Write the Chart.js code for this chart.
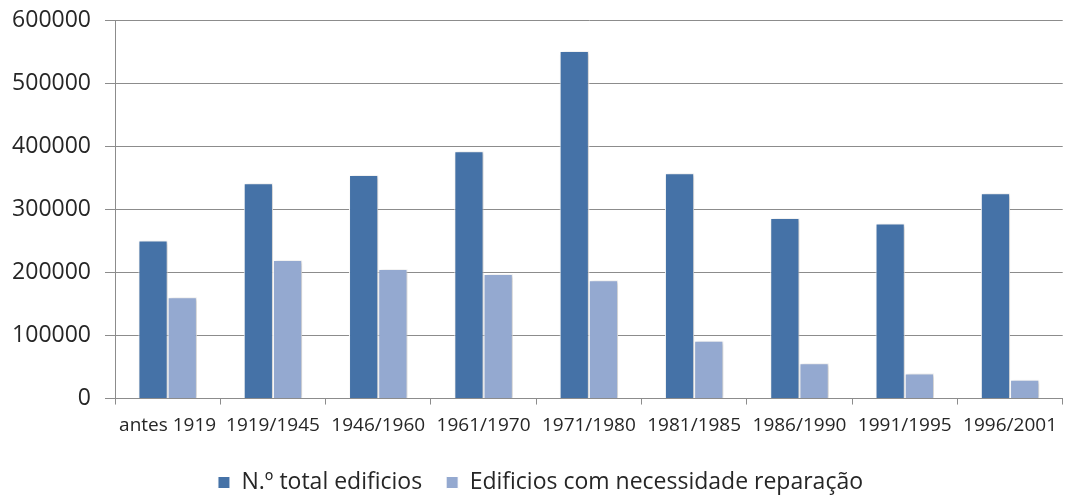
<!DOCTYPE html>
<html>
<head>
<meta charset="utf-8">
<script src="https://cdn.jsdelivr.net/npm/chart.js@4/dist/chart.umd.min.js"></script>
<style>
  html, body { margin: 0; padding: 0; background: #ffffff; }
  #wrap { width: 1071px; height: 495px; position: relative; }
</style>
</head>
<body>
<div id="wrap"><canvas id="barChart"></canvas></div>
<script>
const categories = [
  "antes 1919", "1919/1945", "1946/1960", "1961/1970", "1971/1980",
  "1981/1985", "1986/1990", "1991/1995", "1996/2001",
];
const totalEdificios = [251000, 342000, 355000, 393000, 552000, 358000, 287000, 278000, 326000];
const necessidadeReparacao = [161000, 220000, 206000, 198000, 188000, 92000, 56000, 40000, 30000];
const yTicks = [0, 100000, 200000, 300000, 400000, 500000, 600000];

const seriesNames = ["N.º total edificios", "Edificios com necessidade reparação"];

// soft drop shadow behind the bars, like the spreadsheet original
const barShadow = {
  id: "barShadow",
  beforeDatasetsDraw(chart) {
    const ctx = chart.ctx;
    ctx.save();
    ctx.shadowColor = "rgba(0,0,0,0.22)";
    ctx.shadowBlur = 4;
    ctx.shadowOffsetX = 2;
    ctx.shadowOffsetY = 1;
  },
  afterDatasetsDraw(chart) {
    chart.ctx.restore();
  },
};

function initChart() {
  Chart.defaults.font.family = "'Open Sans', sans-serif";
  Chart.defaults.color = "#333333";

  const canvas = document.getElementById("barChart");
  new Chart(canvas.getContext("2d"), {
    type: "bar",
    data: {
      labels: categories,
      datasets: [
        {
          label: seriesNames[0],
          data: totalEdificios,
          backgroundColor: "#4572a7",
          borderColor: "#ffffff",
          borderWidth: 1,
          categoryPercentage: 0.555,
          barPercentage: 1,
        },
        {
          label: seriesNames[1],
          data: necessidadeReparacao,
          backgroundColor: "#94a9d0",
          borderColor: "#ffffff",
          borderWidth: 1,
          categoryPercentage: 0.555,
          barPercentage: 1,
        },
      ],
    },
    options: {
      responsive: true,
      maintainAspectRatio: false,
      animation: false,
      layout: { padding: { left: 10, top: 18, right: 0, bottom: -9 } },
      plugins: {
        tooltip: { enabled: false },
        legend: {
          position: "bottom",
          labels: {
            font: { size: 23 },
            color: "#262626",
            boxWidth: 12,
            boxHeight: 12,
            padding: 24,
          },
        },
      },
      scales: {
        y: {
          min: 0,
          max: 600000,
          afterBuildTicks(axis) {
            axis.ticks = yTicks.map((v) => ({ value: v }));
          },
          afterFit(axis) {
            axis.width = 105;
          },
          ticks: {
            font: { size: 23, lineHeight: 0.6 },
            color: "#262626",
            padding: 14,
            callback: (value) => String(value),
          },
          border: { display: true, color: "#8c8c8c", width: 1 },
          grid: {
            color: "#8c8c8c",
            lineWidth: 1,
            tickLength: 10,
            drawTicks: true,
          },
        },
        x: {
          offset: true,
          ticks: {
            font: { size: 19, lineHeight: 0.76 },
            color: "#262626",
            padding: 14,
            maxRotation: 0,
            autoSkip: false,
          },
          border: { display: true, color: "#8c8c8c", width: 1 },
          grid: {
            offset: true,
            drawOnChartArea: false,
            drawTicks: true,
            tickLength: 6,
            color: "#8c8c8c",
          },
        },
      },
    },
    plugins: [barShadow],
  });
}

document.addEventListener("DOMContentLoaded", initChart);
</script>
</body>
</html>
